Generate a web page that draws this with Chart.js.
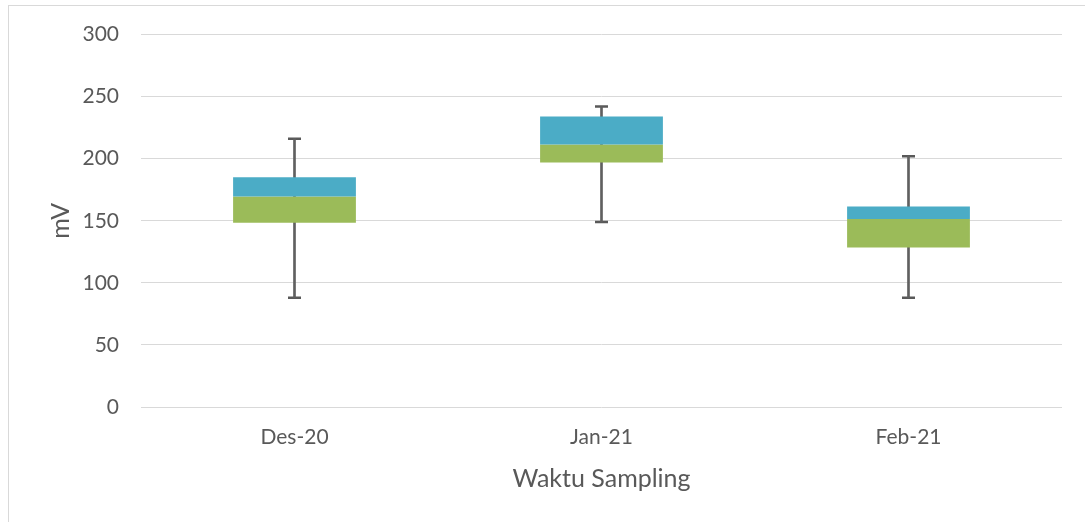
<!DOCTYPE html>
<html>
<head>
<meta charset="utf-8">
<script src="https://cdn.jsdelivr.net/npm/chart.js@4.4.0/dist/chart.umd.min.js"></script>
<style>
  html, body { margin: 0; padding: 0; background: #ffffff; }
  #wrap { position: absolute; left: 0; top: 0; width: 1085px; height: 522px; }
  #frame { position: absolute; left: 8px; top: 5px; width: 1100px; height: 540px;
           border-left: 1px solid #d9d9d9; border-top: 1px solid #d9d9d9; pointer-events: none; }
</style>
</head>
<body>
<div id="wrap">
  <canvas id="c" width="1085" height="522"></canvas>
  <div id="frame"></div>
</div>
<script>
const categories = ['Des-20', 'Jan-21', 'Feb-21'];
const minVals    = [88, 149, 88];
const q1Vals     = [148.5, 197, 128.5];
const medianVals = [169.5, 211.5, 151.5];
const q3Vals     = [185, 234, 161.5];
const maxVals    = [216, 242, 202];
const yTicks     = [0, 50, 100, 150, 200, 250, 300];

const lowerBox = categories.map((_, i) => [q1Vals[i], medianVals[i]]);
const upperBox = categories.map((_, i) => [medianVals[i], q3Vals[i]]);
const whisker  = categories.map((_, i) => [minVals[i], maxVals[i]]);

const FONT = 'Lato, "Open Sans", sans-serif';
const GREY = '#595959';

new Chart(document.getElementById('c'), {
  data: {
    labels: categories,
    datasets: [
      { type: 'bar', label: 'Q3', data: upperBox, backgroundColor: '#4BACC6',
        grouped: false, categoryPercentage: 1, barPercentage: 0.4, borderWidth: 0 },
      { type: 'bar', label: 'Median', data: lowerBox, backgroundColor: '#9BBB59',
        grouped: false, categoryPercentage: 1, barPercentage: 0.4, borderWidth: 0 },
      { type: 'bar', label: 'Whisker', data: whisker, backgroundColor: '#606060',
        grouped: false, barThickness: 2, borderWidth: 0 },
      { type: 'line', label: 'Max', data: maxVals, showLine: false, pointStyle: 'line',
        pointRadius: 6.5, pointBorderWidth: 2.5, borderColor: GREY, pointBorderColor: GREY },
      { type: 'line', label: 'Min', data: minVals, showLine: false, pointStyle: 'line',
        pointRadius: 6.5, pointBorderWidth: 2.5, borderColor: GREY, pointBorderColor: GREY }
    ]
  },
  options: {
    responsive: false,
    animation: false,
    devicePixelRatio: 1,
    layout: { padding: { left: 46, right: 23, top: 34, bottom: 28 } },
    plugins: { legend: { display: false }, tooltip: { enabled: false } },
    scales: {
      x: {
        type: 'category',
        grid: { display: false, drawTicks: false },
        border: { display: false },
        ticks: { color: GREY, font: { family: FONT, size: 21 }, padding: 18, maxRotation: 0 },
        title: { display: true, text: 'Waktu Sampling', color: GREY,
                 font: { family: FONT, size: 25 }, padding: 0 },
        afterFit: (s) => { s.height = 87; }
      },
      y: {
        min: 0, max: 300,
        afterBuildTicks: (s) => { s.ticks = yTicks.map(v => ({ value: v })); },
        grid: { color: '#d9d9d9', lineWidth: 1, drawTicks: false },
        border: { display: false },
        ticks: { color: GREY, font: { family: FONT, size: 21 }, padding: 22 },
        title: { display: true, text: 'mV', color: GREY,
                 font: { family: FONT, size: 25 }, padding: 0 },
        afterFit: (s) => { s.width = 95; }
      }
    }
  }
});
</script>
</body>
</html>
